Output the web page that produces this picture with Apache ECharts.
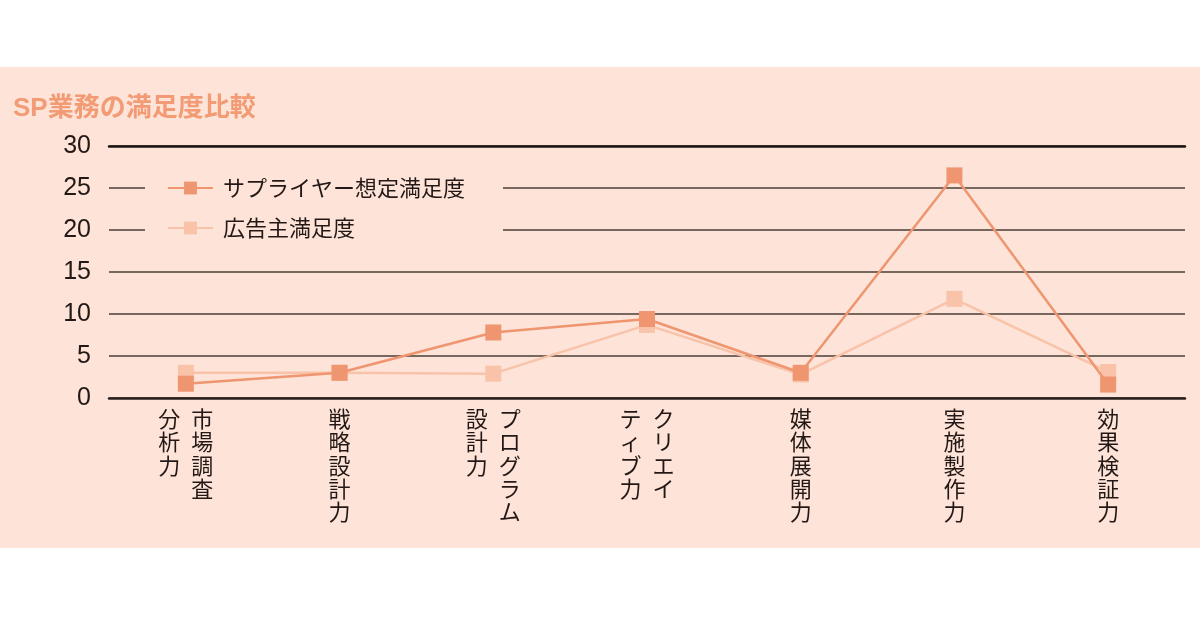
<!DOCTYPE html>
<html>
<head>
<meta charset="utf-8">
<script src="https://cdn.jsdelivr.net/npm/echarts@6/dist/echarts.min.js"></script>
<style>
  html, body { margin: 0; padding: 0; background: #ffffff; width: 1200px; height: 630px; overflow: hidden; }
  #chart { position: absolute; left: 0; top: 67px; width: 1200px; height: 481px; background: #fde3d8; }
</style>
</head>
<body>
<div id="chart"></div>
<script>
// Category labels written as vertical columns (right column first, as in the original)
const categoryColumns = [
  ['市場調査', '分析力'],
  ['戦略設計力'],
  ['プログラム', '設計力'],
  ['クリエイ', 'ティブ力'],
  ['媒体展開力'],
  ['実施製作力'],
  ['効果検証力']
];
const categories = categoryColumns.map(c => c.join(''));
const seriesNames = ['サプライヤー想定満足度', '広告主満足度'];
const supplierValues = [1.7, 3.0, 7.8, 9.4, 3.0, 26.5, 1.6];
const advertiserValues = [3.0, 3.0, 2.9, 8.7, 2.8, 11.8, 3.1];
const yTicks = [0, 5, 10, 15, 20, 25, 30];

const TXT = '#231815';
const CJK = '"Noto Sans CJK JP", "Noto Sans", sans-serif';
const colMap = {};
categoryColumns.forEach(c => { colMap[c.join('')] = c; });

function verticalLabel(v) {
  const cols = colMap[v];
  const first = Array.from(cols[0]);
  if (cols.length === 1) {
    return first.map(ch => '{s|' + ch + '}').join('\n');
  }
  const second = Array.from(cols[1]);
  const n = Math.max(first.length, second.length);
  const rows = [];
  for (let i = 0; i < n; i++) {
    rows.push('{l|' + (second[i] || '　') + '}{r|' + (first[i] || '　') + '}');
  }
  return rows.join('\n');
}

const chart = echarts.init(document.getElementById('chart'), null, { renderer: 'canvas' });
const labelStyle = { fontSize: 22, lineHeight: 23.3, color: TXT, fontFamily: CJK };
chart.setOption({
  backgroundColor: '#fde3d8',
  animation: false,
  title: {
    text: 'SP業務の満足度比較',
    left: 8, top: 24,
    textStyle: { fontSize: 26, fontWeight: 'bold', color: '#f29b74', fontFamily: '"Liberation Sans", "Noto Sans CJK JP", sans-serif' }
  },
  legend: {
    data: seriesNames,
    orient: 'vertical',
    left: 145, top: 100,
    padding: [10, 38, 10, 22],
    itemGap: 18,
    itemWidth: 45,
    itemHeight: 16,
    backgroundColor: '#fde3d8',
    textStyle: { fontSize: 22, color: TXT, fontFamily: CJK, padding: [0, 0, 0, 5] }
  },
  grid: { left: 109, right: 15, top: 79, bottom: 150, containLabel: false },
  xAxis: [{
    type: 'category',
    data: categories,
    boundaryGap: true,
    axisLine: { lineStyle: { color: '#2a211c', width: 2.5 } },
    axisTick: { inside: true, length: 10, alignWithLabel: true, lineStyle: { color: '#2a211c', width: 1.5 } },
    axisLabel: {
      interval: 0, margin: 9, verticalAlign: 'top',
      formatter: verticalLabel,
      rich: {
        s: labelStyle,
        l: Object.assign({ width: 33, align: 'center' }, labelStyle),
        r: Object.assign({ width: 33, align: 'center' }, labelStyle)
      }
    }
  }, {
    type: 'category',
    data: categories,
    position: 'top',
    axisLine: { show: true, lineStyle: { color: '#1e1714', width: 2.5 } },
    axisTick: { show: false },
    axisLabel: { show: false }
  }],
  yAxis: {
    type: 'value',
    min: yTicks[0], max: yTicks[yTicks.length - 1], interval: 5,
    axisLine: { show: false },
    axisTick: { show: false },
    axisLabel: { fontSize: 25, color: TXT, margin: 18, fontFamily: '"Liberation Sans", Arial, sans-serif' },
    splitLine: { lineStyle: { color: '#4a3e37', width: 1.5 } }
  },
  series: [
    {
      name: seriesNames[1], type: 'line', data: advertiserValues,
      symbol: 'rect', symbolSize: 16,
      itemStyle: { color: '#f8c3a8' },
      lineStyle: { color: '#f8c3a8', width: 2.5 },
      z: 3
    },
    {
      name: seriesNames[0], type: 'line', data: supplierValues,
      symbol: 'rect', symbolSize: 16,
      itemStyle: { color: '#ef9570' },
      lineStyle: { color: '#ef9570', width: 2.5 },
      z: 4
    }
  ]
});
</script>
</body>
</html>
